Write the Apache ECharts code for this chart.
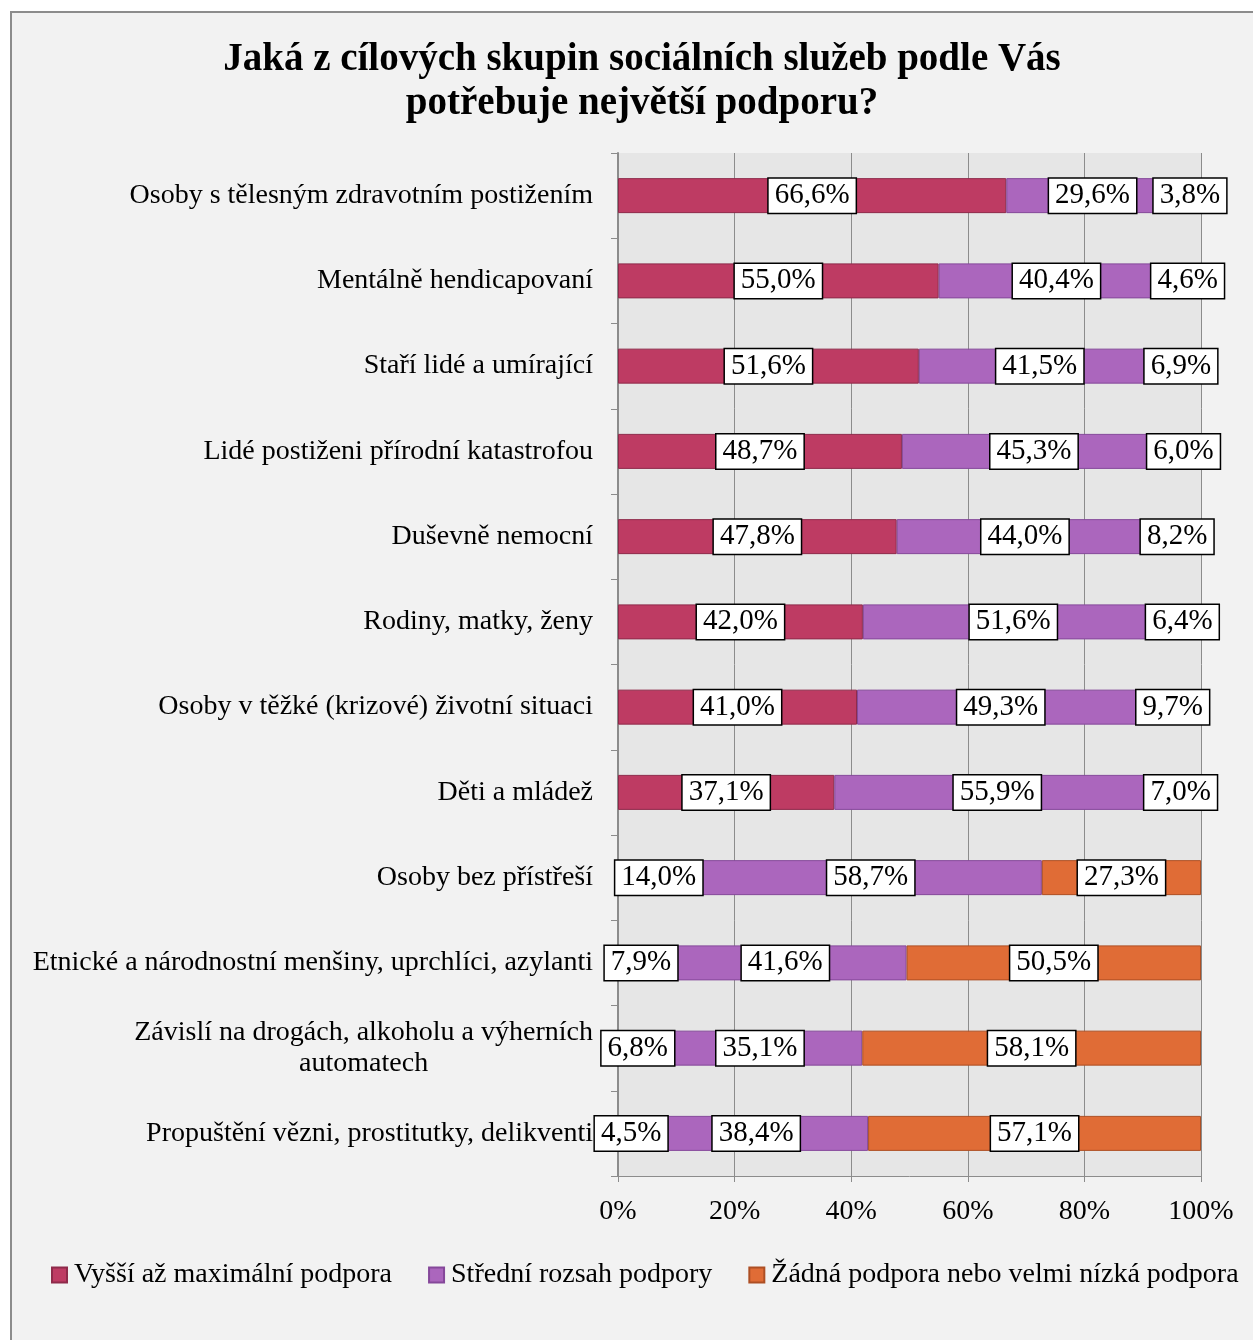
<!DOCTYPE html>
<html>
<head>
<meta charset="utf-8">
<script src="https://cdn.jsdelivr.net/npm/echarts@6/dist/echarts.min.js"></script>
<style>
  body { margin: 0; background: #fff; }
  #frame { position: absolute; left: 10px; top: 11px; width: 1300px; height: 1400px; border: 2px solid #8c8c8c; background: #f2f2f2; }
  #chart { position: absolute; left: 0; top: 0; width: 1253px; height: 1340px; }
</style>
</head>
<body>
<div id="frame"></div>
<div id="chart"></div>
<script>
const categories = [
  'Osoby s tělesným zdravotním postižením',
  'Mentálně hendicapovaní',
  'Staří lidé a umírající',
  'Lidé postiženi přírodní katastrofou',
  'Duševně nemocní',
  'Rodiny, matky, ženy',
  'Osoby v těžké (krizové) životní situaci',
  'Děti a mládež',
  'Osoby bez přístřeší',
  'Etnické a národnostní menšiny, uprchlíci, azylanti',
  'Závislí na drogách, alkoholu a výherních\nautomatech',
  'Propuštění vězni, prostitutky, delikventi'
];
const highSupport = [66.6, 55.0, 51.6, 48.7, 47.8, 42.0, 41.0, 37.1, 14.0, 7.9, 6.8, 4.5];
const midSupport = [29.6, 40.4, 41.5, 45.3, 44.0, 51.6, 49.3, 55.9, 58.7, 41.6, 35.1, 38.4];
const noSupport = [3.8, 4.6, 6.9, 6.0, 8.2, 6.4, 9.7, 7.0, 27.3, 50.5, 58.1, 57.1];
const xTicks = [0, 20, 40, 60, 80, 100];

const font = 'Liberation Serif';

const label = {
  show: true,
  position: 'inside',
  color: '#000',
  fontFamily: font,
  fontSize: 29,
  backgroundColor: '#fff',
  borderColor: '#000',
  borderWidth: 1.5,
  padding: [3, 6, 2, 6],
  formatter: p => p.value.toFixed(1).replace('.', ',') + '%'
};

function bar(name, data, color, border) {
  return {
    name: name,
    type: 'bar',
    stack: 'total',
    barWidth: 35,
    data: data,
    itemStyle: { color: color, borderColor: border, borderWidth: 1 },
    label: label
  };
}

const chart = echarts.init(document.getElementById('chart'));
chart.setOption({
  backgroundColor: 'transparent',
  animation: false,
  title: {
    text: 'Jaká z cílových skupin sociálních služeb podle Vás\npotřebuje největší podporu?',
    left: 637,
    top: 33,
    textAlign: 'center',
    textStyle: { fontFamily: font, fontSize: 39, fontWeight: 'bold', color: '#000', lineHeight: 44 }
  },
  legend: {
    bottom: 46,
    left: 46,
    itemWidth: 15,
    itemHeight: 15,
    itemGap: 36,
    textStyle: { fontFamily: font, fontSize: 28, color: '#000', padding: [0, 0, 0, 2] },
    data: [
      { name: 'Vyšší až maximální podpora', icon: 'rect' },
      { name: 'Střední rozsah podpory', icon: 'rect' },
      { name: 'Žádná podpora nebo velmi nízká podpora', icon: 'rect' }
    ]
  },
  grid: { left: 618, right: 52, top: 153, bottom: 164, show: true, backgroundColor: '#e6e6e6', borderWidth: 0 },
  xAxis: {
    type: 'value',
    min: xTicks[0],
    max: xTicks[xTicks.length - 1],
    interval: 20,
    axisLine: { show: true, lineStyle: { color: '#8c8c8c' } },
    axisTick: { show: true, length: 6, lineStyle: { color: '#8c8c8c' } },
    splitLine: { show: true, lineStyle: { color: '#8c8c8c', width: 1 } },
    axisLabel: { fontFamily: font, fontSize: 28, color: '#000', margin: 22, formatter: '{value}%' }
  },
  yAxis: {
    type: 'category',
    inverse: true,
    data: categories,
    axisLine: { show: true, lineStyle: { color: '#8c8c8c', width: 2 } },
    axisTick: { show: true, length: 7, lineStyle: { color: '#8c8c8c' } },
    axisLabel: {
      fontFamily: font,
      fontSize: 28,
      color: '#000',
      margin: 25,
      lineHeight: 31,
      formatter: v => {
        const parts = v.split('\n');
        if (parts.length === 1) return v;
        return '{a|' + parts[0] + '}\n{c|' + parts[1] + '}';
      },
      rich: {
        a: { fontFamily: font, fontSize: 28, lineHeight: 31, color: '#000' },
        c: { fontFamily: font, fontSize: 28, lineHeight: 31, color: '#000', align: 'center' }
      }
    }
  },
  series: [
    bar('Vyšší až maximální podpora', highSupport, '#be3b63', '#8e2a4a'),
    bar('Střední rozsah podpory', midSupport, '#ab66bd', '#85489a'),
    bar('Žádná podpora nebo velmi nízká podpora', noSupport, '#e06c36', '#ad4f24')
  ]
});
</script>
</body>
</html>
